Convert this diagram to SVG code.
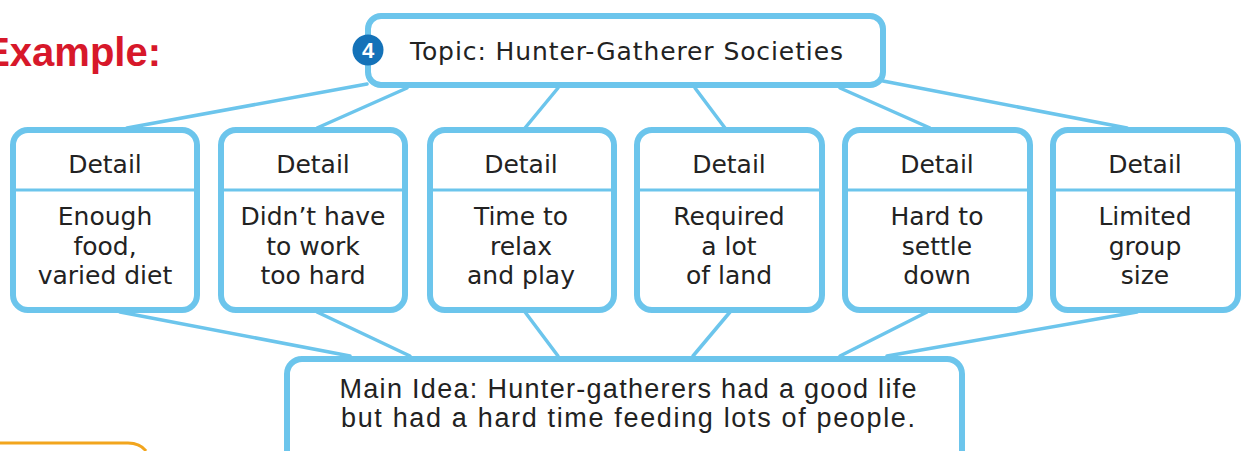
<svg xmlns="http://www.w3.org/2000/svg" width="1241" height="451" viewBox="0 0 1241 451">
<style>
.box{fill:#fff;stroke:#6CC5EC;stroke-width:6}
.div{stroke:#6CC5EC;stroke-width:3}
.con{stroke:#6CC5EC;stroke-width:3.5;fill:none;stroke-linecap:round}
.t{font-family:"DejaVu Sans",sans-serif;font-size:25px;fill:#222;text-anchor:middle}
.m{font-family:"Liberation Sans",sans-serif;font-size:27px;fill:#222;text-anchor:middle}
</style>
<rect width="1241" height="451" fill="#fff"/>
<g id="example"><text x="161" y="66" font-family="Liberation Sans,sans-serif" font-weight="bold" font-size="40" fill="#D7182A" text-anchor="end">Example:</text></g>
<g id="orange"><path d="M0 443 H128 Q140 443 146 451" fill="#fff" stroke="#F2A51D" stroke-width="3"/></g>
<g id="connectors">
<line class="con" x1="367" y1="84" x2="127" y2="128"/>
<line class="con" x1="407" y1="88" x2="317" y2="128"/>
<line class="con" x1="558" y1="88" x2="525" y2="128"/>
<line class="con" x1="695" y1="88" x2="725" y2="128"/>
<line class="con" x1="840" y1="88" x2="930" y2="128"/>
<line class="con" x1="883" y1="81" x2="1127" y2="128"/>
<line class="con" x1="120" y1="312" x2="350" y2="356"/>
<line class="con" x1="317" y1="312" x2="410" y2="356"/>
<line class="con" x1="525" y1="312" x2="558" y2="356"/>
<line class="con" x1="730" y1="312" x2="693" y2="356"/>
<line class="con" x1="927" y1="312" x2="840" y2="356"/>
<line class="con" x1="1137" y1="312" x2="887" y2="356"/>
</g>
<g id="topic">
<rect class="box" x="368" y="16" width="515" height="69" rx="13"/>
<circle cx="368" cy="50" r="15.5" fill="#1472B8"/>
<text x="368" y="58" font-family="Liberation Sans,sans-serif" font-weight="bold" font-size="22" fill="#fff" text-anchor="middle">4</text>
<text class="t" x="626.5" y="60" font-size="27" textLength="433" lengthAdjust="spacing">Topic: Hunter-Gatherer Societies</text>
</g>
<g id="d1">
<rect class="box" x="13" y="130" width="184" height="180" rx="15"/>
<line class="div" x1="13" y1="190" x2="197" y2="190"/>
<text class="t" x="105" y="173">Detail</text>
<text class="t" x="105" y="225">Enough</text>
<text class="t" x="105" y="255">food,</text>
<text class="t" x="105" y="284">varied diet</text>
</g>
<g id="d2">
<rect class="box" x="221" y="130" width="184" height="180" rx="15"/>
<line class="div" x1="221" y1="190" x2="405" y2="190"/>
<text class="t" x="313" y="173">Detail</text>
<text class="t" x="313" y="225">Didn’t have</text>
<text class="t" x="313" y="255">to work</text>
<text class="t" x="313" y="284">too hard</text>
</g>
<g id="d3">
<rect class="box" x="430" y="130" width="184" height="180" rx="15"/>
<line class="div" x1="430" y1="190" x2="614" y2="190"/>
<text class="t" x="521" y="173">Detail</text>
<text class="t" x="521" y="225">Time to</text>
<text class="t" x="521" y="255">relax</text>
<text class="t" x="521" y="284">and play</text>
</g>
<g id="d4">
<rect class="box" x="637" y="130" width="185" height="180" rx="15"/>
<line class="div" x1="637" y1="190" x2="822" y2="190"/>
<text class="t" x="729" y="173">Detail</text>
<text class="t" x="729" y="225">Required</text>
<text class="t" x="729" y="255">a lot</text>
<text class="t" x="729" y="284">of land</text>
</g>
<g id="d5">
<rect class="box" x="845" y="130" width="185" height="180" rx="15"/>
<line class="div" x1="845" y1="190" x2="1030" y2="190"/>
<text class="t" x="937" y="173">Detail</text>
<text class="t" x="937" y="225">Hard to</text>
<text class="t" x="937" y="255">settle</text>
<text class="t" x="937" y="284">down</text>
</g>
<g id="d6">
<rect class="box" x="1053" y="130" width="185" height="180" rx="15"/>
<line class="div" x1="1053" y1="190" x2="1238" y2="190"/>
<text class="t" x="1145" y="173">Detail</text>
<text class="t" x="1145" y="225">Limited</text>
<text class="t" x="1145" y="255">group</text>
<text class="t" x="1145" y="284">size</text>
</g>
<g id="main">
<rect class="box" x="287" y="359" width="675" height="110" rx="15"/>
<text class="m" x="628" y="398" textLength="577" lengthAdjust="spacing">Main Idea: Hunter-gatherers had a good life</text>
<text class="m" x="628" y="427" textLength="574" lengthAdjust="spacing">but had a hard time feeding lots of people.</text>
</g>
</svg>
